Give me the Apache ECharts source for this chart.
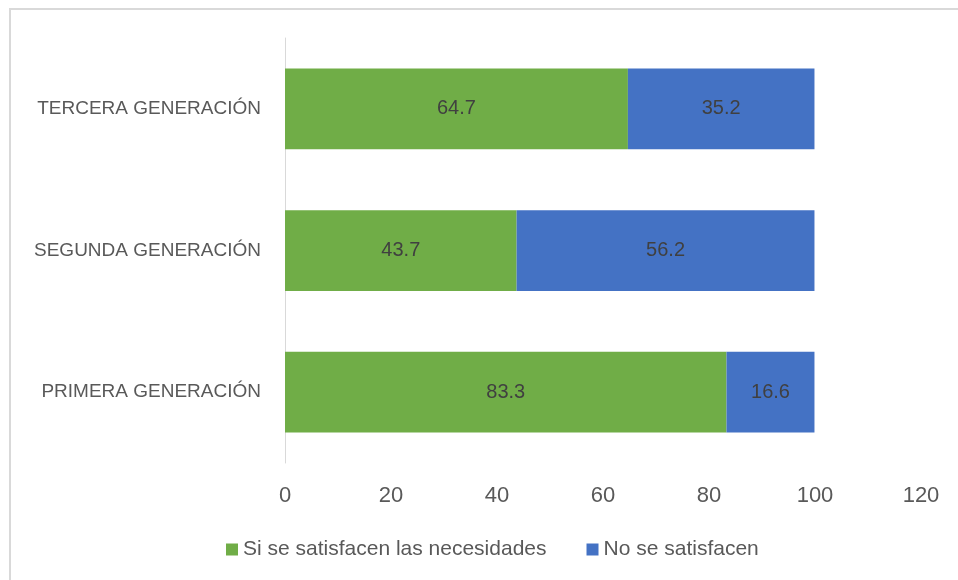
<!DOCTYPE html>
<html><head><meta charset="utf-8">
<script src="https://cdn.jsdelivr.net/npm/echarts@6/dist/echarts.min.js"></script>
<style>html,body{margin:0;padding:0;background:#fff}#c{width:958px;height:580px}</style>
</head><body><div id="c"></div>
<script>
var categories = ['PRIMERA GENERACIÓN', 'SEGUNDA GENERACIÓN', 'TERCERA GENERACIÓN'];
var siValues = [83.3, 43.7, 64.7];
var noValues = [16.6, 56.2, 35.2];
var seriesNames = ['Si se satisfacen las necesidades', 'No se satisfacen'];
var xTicks = [0, 20, 40, 60, 80, 100, 120];

var FONT = '"Liberation Sans Narrow", "Arial Narrow", "Liberation Sans", sans-serif';
var chart = echarts.init(document.getElementById('c'));
chart.setOption({
  animation: false,
  graphic: [{type: 'rect', shape: {x: 10, y: 9, width: 1000, height: 1000}, style: {fill: 'none', stroke: '#d9d9d9', lineWidth: 2}}],
  grid: {left: 285, right: 37, top: 38, bottom: 117},
  legend: {
    left: 221, top: 534, itemWidth: 12, itemHeight: 12, itemGap: 40, icon: 'rect',
    textStyle: {fontFamily: FONT, fontSize: 21, color: '#595959'},
    data: seriesNames
  },
  xAxis: {
    type: 'value', min: xTicks[0], max: xTicks[xTicks.length - 1], interval: 20,
    axisLine: {show: false}, axisTick: {show: false}, splitLine: {show: false},
    axisLabel: {fontFamily: FONT, fontSize: 22, color: '#595959', margin: 22}
  },
  yAxis: {
    type: 'category', data: categories,
    axisLine: {show: true, lineStyle: {color: '#d9d9d9', width: 1}},
    axisTick: {show: false},
    axisLabel: {fontFamily: FONT, fontSize: 19, color: '#595959', margin: 24}
  },
  series: [
    {name: seriesNames[0], type: 'bar', stack: 't', data: siValues, barCategoryGap: '43%',
     itemStyle: {color: '#70AD47'},
     label: {show: true, position: 'inside', fontFamily: FONT, fontSize: 20, color: '#404040'}},
    {name: seriesNames[1], type: 'bar', stack: 't', data: noValues, barCategoryGap: '43%',
     itemStyle: {color: '#4472C4'},
     label: {show: true, position: 'inside', fontFamily: FONT, fontSize: 20, color: '#404040'}}
  ]
});
</script></body></html>
